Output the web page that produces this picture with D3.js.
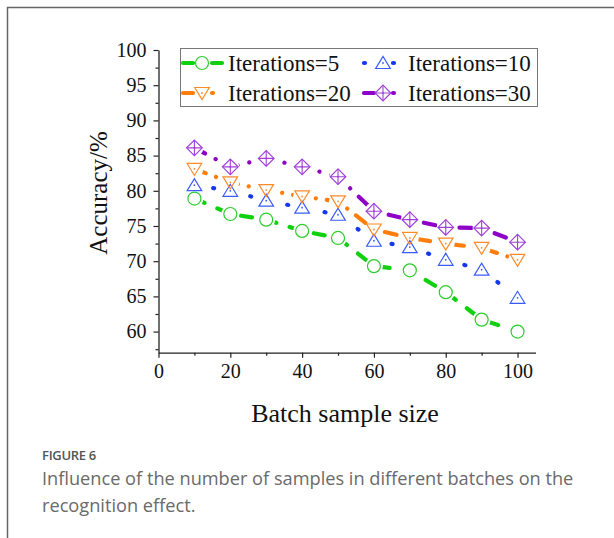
<!DOCTYPE html>
<html><head><meta charset="utf-8">
<script src="https://cdn.jsdelivr.net/npm/d3@7"></script>
<style>body{margin:0;background:#fff}svg{display:block}</style>
</head><body>
<svg id="c" width="614" height="538"></svg>
<script>
const batchSizes=[10,20,30,40,50,60,70,80,90,100];
const iter5 =[78.9,76.7,75.9,74.3,73.3,69.3,68.7,65.6,61.7,60.0];
const iter10=[80.8,80.0,78.6,77.6,76.6,72.9,72.0,70.2,68.8,64.8];
const iter20=[83.1,81.2,80.1,79.2,78.5,74.5,73.3,72.5,71.9,70.2];
const iter30=[86.1,83.4,84.6,83.4,82.0,77.1,75.9,74.8,74.7,72.7];
const seriesNames=["Iterations=5","Iterations=10","Iterations=20","Iterations=30"];
const xTicks=[0,20,40,60,80,100];
const yTicks=[60,65,70,75,80,85,90,95,100];
const xLabel="Batch sample size", yLabel="Accuracy/%";
const figLabel="FIGURE 6";
const captionLines=["Influence of the number of samples in different batches on the","recognition effect."];

const svg=d3.select("#c");
const defs=svg.append("defs");
// frame
svg.append("path").attr("d","M7.5,540V7.5H620").attr("fill","none").attr("stroke","#666").attr("stroke-width",1.5);

const x=d3.scaleLinear().domain([0,105]).range([158.5,535.5]);
const y=d3.scaleLinear().domain([57,100]).range([352.7,50]);
const serif="'Liberation Serif','Times New Roman',serif";

// axes
svg.append("g").attr("transform",`translate(0,${y(57)})`)
  .call(d3.axisBottom(x).tickValues(xTicks).tickSize(5).tickPadding(6).tickSizeOuter(0));
svg.append("g").attr("transform",`translate(0,${y(57)})`)
  .call(d3.axisBottom(x).tickValues(d3.range(10,101,20)).tickSize(3).tickFormat("").tickSizeOuter(0))
  .select(".domain").remove();
svg.append("g").attr("transform",`translate(${x(0)},0)`)
  .call(d3.axisLeft(y).tickValues(yTicks).tickSize(5).tickPadding(7).tickSizeOuter(0));
svg.append("g").attr("transform",`translate(${x(0)},0)`)
  .call(d3.axisLeft(y).tickValues(d3.range(57.5,100,5)).tickSize(3).tickFormat("").tickSizeOuter(0))
  .select(".domain").remove();
svg.selectAll(".domain").attr("stroke","#222").attr("stroke-width",1.3);
svg.selectAll(".tick line").attr("stroke","#222").attr("stroke-width",1.2);
svg.selectAll(".tick text").attr("font-family",serif).attr("font-size",20).attr("fill","#111");

svg.append("text").attr("x",345).attr("y",422).attr("text-anchor","middle")
  .attr("font-family",serif).attr("font-size",26).attr("fill","#111").text(xLabel);
svg.append("text").attr("transform","translate(107,193) rotate(-90)").attr("text-anchor","middle")
  .attr("font-family",serif).attr("font-size",25).attr("fill","#111").text(yLabel);

// markers
function markerPath(type){
  if(type==="circle") return d3.arc()({innerRadius:0,outerRadius:6.5,startAngle:0,endAngle:2*Math.PI});
  if(type==="tri") return "M-7.3,5.5L7.3,5.5L0,-6.5Z";
  if(type==="itri") return "M-7.3,-5.5L7.3,-5.5L0,6.5Z";
  if(type==="diamond") return "M0,-7.8L7.8,0L0,7.8L-7.8,0Z";
}
const series=[
  {name:seriesNames[0],vals:iter5, line:"#10d010",mk:"#2ccc2c",dash:"11,14",type:"circle"},
  {name:seriesNames[1],vals:iter10,line:"#1438f0",mk:"#3a5cff",dash:"1,18",type:"tri"},
  {name:seriesNames[2],vals:iter20,line:"#ff7d0a",mk:"#ff8a2a",dash:"12,11,0.1,11",type:"itri"},
  {name:seriesNames[3],vals:iter30,line:"#8e00c8",mk:"#a040d8",dash:"12,12,0.1,12",type:"diamond"}
];
const line=d3.line().x(d=>x(d[0])).y(d=>y(d[1]));

function drawMarker(g,s){
  g.append("path").attr("d",markerPath(s.type)).attr("fill","none").attr("stroke",s.mk).attr("stroke-width",1.2);
  if(s.type==="diamond"){
    g.append("path").attr("d","M0,-7.8V7.8M-7.8,0H7.8").attr("stroke",s.mk).attr("stroke-width",1.1);
  }
  if(s.type!=="circle"){
    g.append("circle").attr("r",0.9).attr("fill",s.mk);
  }
}

series.forEach((s,si)=>{
  const pts=batchSizes.map((b,i)=>[b,s.vals[i]]);
  const m=defs.append("mask").attr("id","m"+si).attr("maskUnits","userSpaceOnUse")
    .attr("x",0).attr("y",0).attr("width",614).attr("height",538);
  m.append("rect").attr("width",614).attr("height",538).attr("fill","#fff");
  pts.forEach(p=>m.append("circle").attr("cx",x(p[0])).attr("cy",y(p[1])).attr("r",9).attr("fill","#000"));
  svg.append("path").attr("d",line(pts)).attr("fill","none").attr("stroke",s.line)
    .attr("stroke-width",4.2).attr("stroke-dasharray",s.dash).attr("stroke-linecap","round")
    .attr("mask",`url(#m${si})`);
});
series.forEach(s=>{
  batchSizes.forEach((b,i)=>{
    const g=svg.append("g").attr("transform",`translate(${x(b)},${y(s.vals[i])})`);
    drawMarker(g,s);
  });
});

// legend
const lg=svg.append("g");
lg.append("rect").attr("x",180.5).attr("y",48.5).attr("width",357).attr("height",58)
  .attr("fill","#fff").attr("stroke","#777").attr("stroke-width",1);
const pos=[[181,63,228],[362,63,408],[181,93,228],[362,93,408]];
series.forEach((s,i)=>{
  const [lx,ly,tx]=pos[i];
  lg.append("path").attr("d",`M${lx+2},${ly}H${lx+12}`).attr("stroke",s.line).attr("stroke-width",4.2)
    .attr("stroke-linecap","round").attr("fill","none").attr("stroke-dasharray",i===1?"1,18":null);
  lg.append("path").attr("d",`M${lx+31},${ly}H${lx+41}`).attr("stroke",s.line).attr("stroke-width",4.2)
    .attr("stroke-linecap","round").attr("fill","none").attr("stroke-dasharray",i===0?null:"1,30");
  const g=lg.append("g").attr("transform",`translate(${lx+21},${ly})`);
  drawMarker(g,s);
  lg.append("text").attr("x",tx).attr("y",ly+7.5).attr("font-family",serif).attr("font-size",23)
    .attr("fill","#111").text(s.name);
});

// caption
const sans="'Open Sans','Noto Sans',sans-serif";
svg.append("text").attr("x",42).attr("y",460).attr("font-family",sans).attr("font-size",13)
  .attr("font-weight",600).attr("letter-spacing",-0.3).attr("fill","#555").text(figLabel);
captionLines.forEach((t,i)=>{
  svg.append("text").attr("x",42).attr("y",485+i*27).attr("font-family",sans).attr("font-size",18.2)
    .attr("fill","#6a6a6a").text(t);
});
</script>
</body></html>
